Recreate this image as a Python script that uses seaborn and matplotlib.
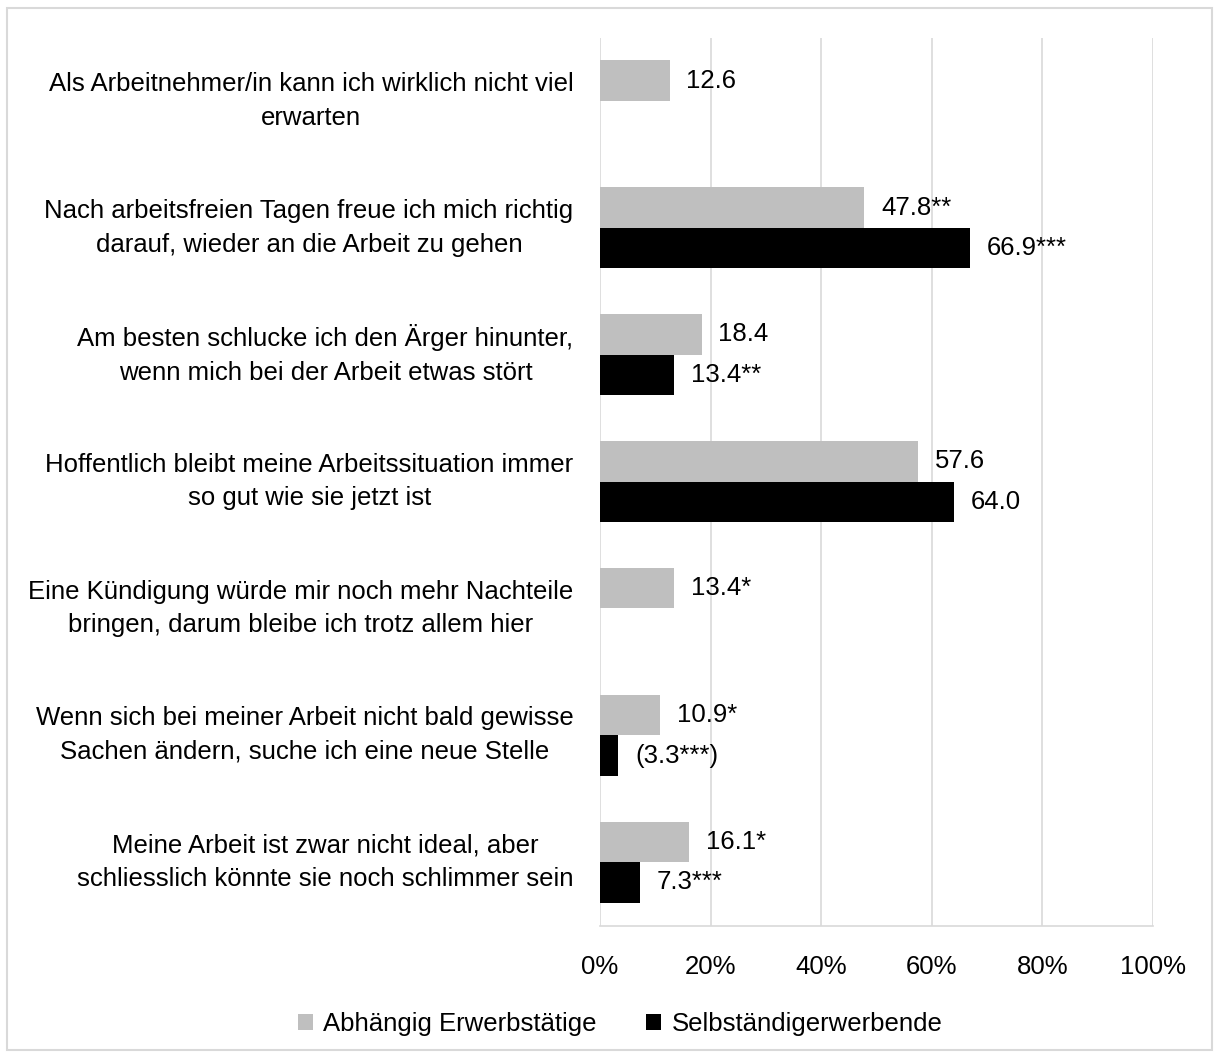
import numpy as np
import pandas as pd
import matplotlib
matplotlib.use("Agg")
import matplotlib.pyplot as plt
import matplotlib.patches as mpatches
import seaborn as sns

# data
statements = [
    "Als Arbeitnehmer/in kann ich wirklich nicht viel\nerwarten",
    "Nach arbeitsfreien Tagen freue ich mich richtig\ndarauf, wieder an die Arbeit zu gehen",
    "Am besten schlucke ich den Ärger hinunter,\nwenn mich bei der Arbeit etwas stört",
    "Hoffentlich bleibt meine Arbeitssituation immer\nso gut wie sie jetzt ist",
    "Eine Kündigung würde mir noch mehr Nachteile\nbringen, darum bleibe ich trotz allem hier",
    "Wenn sich bei meiner Arbeit nicht bald gewisse\nSachen ändern, suche ich eine neue Stelle",
    "Meine Arbeit ist zwar nicht ideal, aber\nschliesslich könnte sie noch schlimmer sein",
]
groups = ["Abhängig Erwerbstätige", "Selbständigerwerbende"]
abhaengig = [12.6, 47.8, 18.4, 57.6, 13.4, 10.9, 16.1]
selbstaendig = [np.nan, 66.9, 13.4, 64.0, np.nan, 3.3, 7.3]
abhaengig_labels = ["12.6", "47.8**", "18.4", "57.6", "13.4*", "10.9*", "16.1*"]
selbstaendig_labels = ["", "66.9***", "13.4**", "64.0", "", "(3.3***)", "7.3***"]
x_ticks = [0, 20, 40, 60, 80, 100]

df = pd.DataFrame({
    "statement": statements * 2,
    "group": [groups[0]] * len(statements) + [groups[1]] * len(statements),
    "value": abhaengig + selbstaendig,
})

sns.set_style("white")
plt.rcParams["font.family"] = ["Liberation Sans", "DejaVu Sans"]
plt.rcParams["text.color"] = "#000000"
plt.rcParams["xtick.color"] = "#000000"
plt.rcParams["ytick.color"] = "#000000"
fs = 18.5

fig = plt.figure(figsize=(12.18, 10.57), dpi=100)
ax = fig.add_axes([0.4926, 0.1244, 0.454, 0.840])

sns.barplot(data=df, x="value", y="statement", hue="group", order=statements,
            hue_order=groups, palette=["#BFBFBF", "#000000"], orient="h",
            width=0.64, saturation=1, ax=ax, zorder=3, edgecolor="none")

# value labels
for cont, vals, labs in zip(ax.containers, [abhaengig, selbstaendig],
                            [abhaengig_labels, selbstaendig_labels]):
    if len(cont) == len(vals):
        use = [l if not np.isnan(v) else "" for v, l in zip(vals, labs)]
    else:
        use = [l for v, l in zip(vals, labs) if not np.isnan(v)]
    ax.bar_label(cont, labels=use, padding=12, fontsize=fs, color="#000000")

ax.set_xlim(0, 100)
ax.set_xticks(x_ticks)
ax.set_xticklabels([f"{t}%" for t in x_ticks])
ax.set_yticks(range(len(statements)))
ax.set_yticklabels(statements)
ax.grid(axis="x", color="#D9D9D9", linewidth=1.2, zorder=0)
ax.grid(axis="y", visible=False)
for s in ["top", "right", "left"]:
    ax.spines[s].set_visible(False)
ax.spines["bottom"].set_color("#D9D9D9")
ax.spines["bottom"].set_linewidth(1.2)
ax.tick_params(axis="x", length=0, pad=21, labelsize=fs)
ax.tick_params(axis="y", length=0, pad=19, labelsize=fs)
ax.set_xlabel("")
ax.set_ylabel("")

sns.move_legend(ax, "center", bbox_to_anchor=(0.509, 0.031),
                bbox_transform=fig.transFigure, ncol=2, frameon=False,
                title=None, fontsize=fs, handlelength=0.6, handleheight=0.6,
                handletextpad=0.4, columnspacing=1.9)

fig.patches.append(mpatches.Rectangle((0.006, 0.007), 0.989, 0.985,
                                      transform=fig.transFigure, fill=False,
                                      edgecolor="#D9D9D9", linewidth=1.5))

fig.canvas.draw()
for lab in ax.get_yticklabels():
    lab.set_multialignment("center")
    lab.set_verticalalignment("center")
    lab.set_linespacing(1.5)

fig.savefig("out.png", dpi=100)
